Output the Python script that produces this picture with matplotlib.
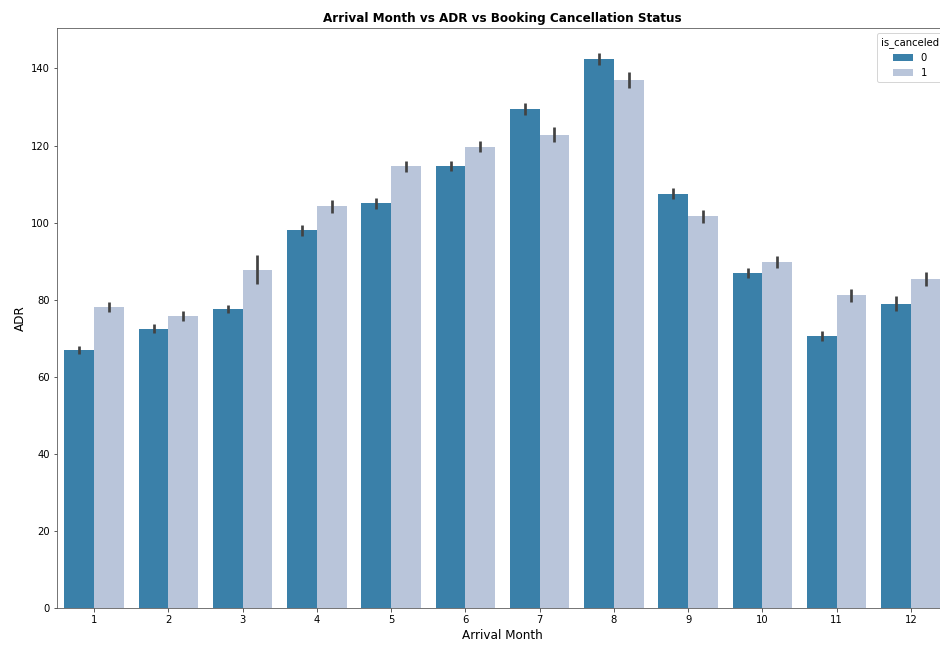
# coding=utf-8
"""
Arrival month vs ADR, split by booking cancellation status
"""

import numpy as np
import matplotlib
matplotlib.use('Agg')
import matplotlib.pyplot as plt

#  Mean ADR per arrival month
months = [1, 2, 3, 4, 5, 6, 7, 8, 9, 10, 11, 12]
adr_not_canceled = [67.0, 72.5, 77.6, 98.0, 105.0, 114.7, 129.4, 142.4, 107.5, 86.9, 70.6, 79.0]
adr_canceled = [78.1, 75.8, 87.8, 104.2, 114.6, 119.7, 122.8, 137.1, 101.6, 89.8, 81.1, 85.4]
#  Half width of the confidence interval bars
ci_not_canceled = [1.0, 1.2, 1.0, 1.4, 1.5, 1.4, 1.6, 1.6, 1.4, 1.3, 1.2, 1.9]
ci_canceled = [1.2, 1.3, 3.7, 1.6, 1.5, 1.4, 1.9, 2.1, 1.8, 1.6, 1.8, 1.8]
hue_labels = ['0', '1']
colors = ['#3a80a9', '#b9c5da']


def plot_adr():
    fig = plt.figure(figsize=(940 / 72, 648 / 72), dpi=72)
    #  Axes runs past the right edge, as in the cropped original
    ax = fig.add_axes([57 / 940, 40 / 648, 891 / 940, 580 / 648])

    x = np.arange(len(months))
    width = 0.4
    series = [(adr_not_canceled, ci_not_canceled), (adr_canceled, ci_canceled)]
    for i, (vals, ci) in enumerate(series):
        pos = x - width / 2 + i * width
        ax.bar(pos, vals, width=width, color=colors[i], label=hue_labels[i])
        ax.errorbar(pos, vals, yerr=ci, fmt='none', ecolor='#424242',
                    elinewidth=2.7, capsize=0)

    for spine in ax.spines.values():
        spine.set_color('#555555')
    ax.set_xticks(x)
    ax.set_xticklabels([str(m) for m in months])
    ax.tick_params(labelsize=10, colors='#333333', labelcolor='black')
    ax.set_xlim(-0.5, len(months) - 0.5)
    ax.set_ylim(0, 150.5)
    ax.set_yticks(np.arange(0, 141, 20))

    ax.set_xlabel('Arrival Month', fontsize=12)
    ax.set_ylabel('ADR', fontsize=12)
    ax.set_title('Arrival Month vs ADR vs Booking Cancellation Status',
                 fontsize=12, fontweight='bold')
    ax.legend(title='is_canceled', loc='upper right', fontsize=10,
              title_fontsize=10)

    fig.savefig('out.png', dpi=72)


if __name__ == '__main__':
    plot_adr()
